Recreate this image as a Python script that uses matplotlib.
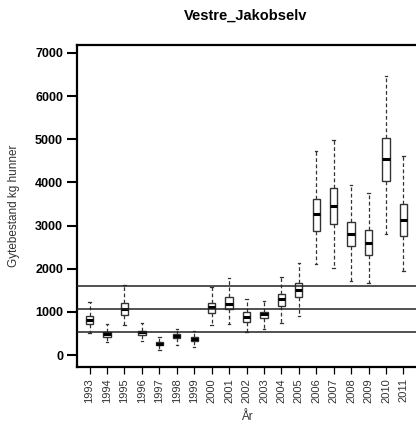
import numpy as np
import matplotlib.pyplot as plt

plt.rcParams['font.family'] = ['Liberation Sans', 'DejaVu Sans']

# box statistics (kg hunner)
years = [str(y) for y in range(1993, 2012)]
whislo = [500, 295, 695, 325, 116, 240, 185, 695, 718, 540, 603, 749, 904,
          2102, 2024, 1710, 1676, 2805, 1940]
q1 = [711, 425, 927, 464, 224, 386, 317, 981, 1066, 757, 851, 1136, 1337,
      2881, 3044, 2527, 2311, 4033, 2765]
med = [811, 487, 1059, 526, 263, 440, 371, 1105, 1182, 888, 943, 1291, 1507,
       3268, 3454, 2805, 2596, 4536, 3129]
q3 = [911, 540, 1213, 563, 294, 487, 425, 1213, 1337, 990, 1004, 1414, 1662,
      3616, 3871, 3090, 2898, 5037, 3493]
whishi = [1221, 711, 1630, 734, 417, 610, 556, 1575, 1785, 1298, 1259, 1805, 2140,
          4729, 4984, 3934, 3762, 6467, 4606]

# reference levels
ref_lines = [530, 1060, 1590]

stats = []
for i in range(len(years)):
    stats.append(dict(label=years[i], whislo=whislo[i], q1=q1[i], med=med[i],
                      q3=q3[i], whishi=whishi[i], fliers=[]))

fig = plt.figure(figsize=(4.16, 4.23), dpi=100)
ax = fig.add_axes([77/416, 1-367/423, 1-77/416, (367-45)/423])

ax.bxp(stats, positions=np.arange(len(years)), widths=0.42, capwidths=0.14,
       patch_artist=True, showfliers=False,
       boxprops=dict(facecolor='white', edgecolor='#333333', linewidth=1.0),
       medianprops=dict(color='black', linewidth=2.2),
       whiskerprops=dict(color='#333333', linewidth=0.9, linestyle=(0, (3, 2))),
       capprops=dict(color='#333333', linewidth=0.9))

for v in ref_lines:
    ax.axhline(v, color='#222222', linewidth=1.1, zorder=3)

ax.set_xlim(-0.72, 18.72)
ax.set_ylim(-278, 7185)
ax.set_yticks([0, 1000, 2000, 3000, 4000, 5000, 6000, 7000])
ax.set_yticklabels(['0', '1000', '2000', '3000', '4000', '5000', '6000', '7000'],
                   fontsize=9, fontweight='bold')
ax.set_xticks(np.arange(len(years)))
ax.set_xticklabels(years, rotation=90, fontsize=8, color='#333333')
ax.tick_params(axis='y', length=7, width=1.5, pad=3)
ax.tick_params(axis='x', length=5, width=0.9, pad=3)

for s in ['left', 'top', 'bottom']:
    ax.spines[s].set_linewidth(1.6)
ax.spines['right'].set_visible(False)

fig.text(246/416, 1-16/423, 'Vestre_Jakobselv', ha='center', va='center',
         fontsize=10.5, fontweight='bold')
fig.text(14/416, 1-206/423, 'Gytebestand kg hunner', ha='center', va='center',
         rotation=90, fontsize=8.5, color='#333333')
fig.text(247/416, 1-417/423, 'År', ha='center', va='center', fontsize=8.5,
         color='#333333')

fig.savefig('out.png', dpi=100)
